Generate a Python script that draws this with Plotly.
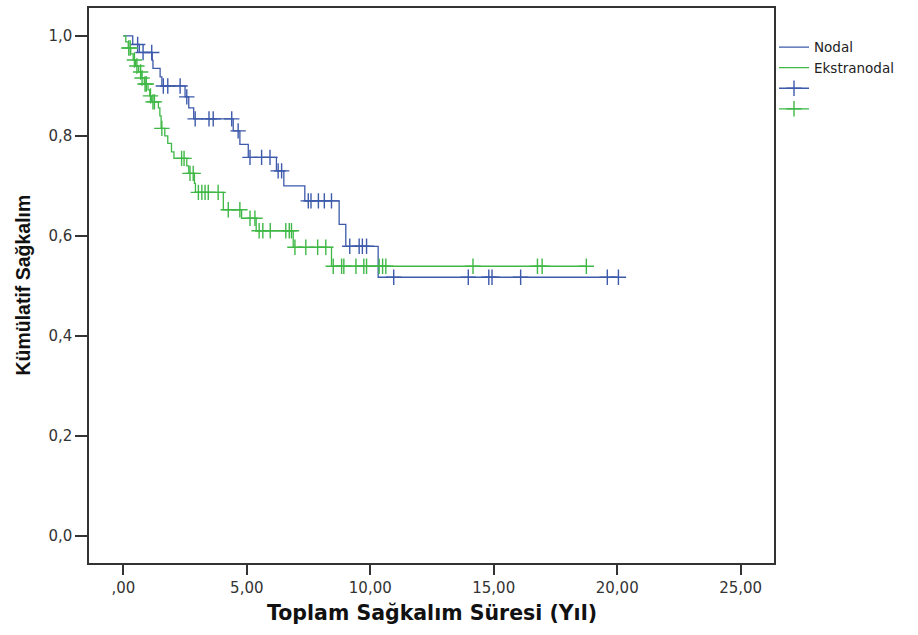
import plotly.graph_objects as go

# Kaplan-Meier estimates by group: event times (years) and the survival after each event
nodal_event_times = [0.38, 0.65, 1.17, 1.20, 1.49, 1.56, 2.50, 2.65, 2.85, 4.45, 4.72,
                     5.06, 6.20, 6.50, 7.35, 8.74, 9.01, 10.32]
nodal_survival = [0.983, 0.967, 0.951, 0.935, 0.918, 0.900, 0.878, 0.856, 0.834, 0.810,
                  0.783, 0.757, 0.730, 0.700, 0.670, 0.623, 0.579, 0.517]
nodal_censored = [0.58, 0.80, 1.15, 1.62, 1.80, 2.30, 2.57, 2.91, 3.47, 3.64, 4.39, 4.65,
                  5.13, 5.60, 5.94, 6.27, 6.41, 7.49, 7.60, 7.90, 8.14, 8.43, 9.17, 9.55,
                  9.68, 9.85, 10.95, 13.97, 14.80, 14.93, 16.09, 19.60, 20.05]
nodal_last_time = 20.05

ekstra_event_times = [0.10, 0.20, 0.30, 0.40, 0.50, 0.62, 0.72, 0.85, 1.00, 1.07, 1.15,
                      1.42, 1.48, 1.53, 1.68, 1.80, 1.95, 2.05, 2.57, 2.65, 2.88, 2.92,
                      4.05, 4.79, 5.38, 6.88, 8.43]
ekstra_survival = [0.988, 0.976, 0.964, 0.952, 0.940, 0.928, 0.916, 0.904, 0.892, 0.880,
                   0.868, 0.856, 0.840, 0.815, 0.800, 0.785, 0.768, 0.755, 0.740, 0.725,
                   0.705, 0.687, 0.652, 0.635, 0.610, 0.577, 0.539]
ekstra_censored = [0.22, 0.28, 0.45, 0.55, 0.70, 0.76, 0.88, 0.93, 1.10, 1.20, 1.26, 1.56,
                   2.36, 2.46, 2.70, 2.83, 3.04, 3.18, 3.31, 3.44, 3.84, 4.25, 4.72, 5.13,
                   5.33, 5.50, 5.65, 5.95, 6.58, 6.72, 6.81, 6.95, 7.39, 7.87, 8.20, 8.50,
                   8.84, 8.93, 9.42, 9.74, 9.85, 10.36, 10.50, 10.63, 14.16, 16.77, 16.96,
                   18.75]
ekstra_last_time = 18.75

group_names = ["Nodal", "Ekstranodal"]
group_colors = ["#3d5aab", "#3fb846"]

x_tick_vals = [0, 5, 10, 15, 20, 25]
x_tick_text = [",00", "5,00", "10,00", "15,00", "20,00", "25,00"]
y_tick_vals = [0.0, 0.2, 0.4, 0.6, 0.8, 1.0]
y_tick_text = ["0,0", "0,2", "0,4", "0,6", "0,8", "1,0"]

x_title = "Toplam Sağkalım Süresi (Yıl)"
y_title = "Kümülatif Sağkalım"


def step_curve(times, surv, last):
    xs = [0.0] + list(times) + [last]
    ys = [1.0] + list(surv) + [surv[-1]]
    return xs, ys


def survival_at(t, times, surv):
    s = 1.0
    for ti, si in zip(times, surv):
        if ti <= t:
            s = si
    return s


def censor_points(censored, times, surv):
    xs, ys = [], []
    for c in censored:
        xs += [c, None]
        ys += [survival_at(c, times, surv), None]
    return xs, ys


groups = [
    (nodal_event_times, nodal_survival, nodal_censored, nodal_last_time),
    (ekstra_event_times, ekstra_survival, ekstra_censored, ekstra_last_time),
]

fig = go.Figure()

for (times, surv, cens, last), name, color in zip(groups, group_names, group_colors):
    xs, ys = step_curve(times, surv, last)
    fig.add_trace(go.Scatter(
        x=xs, y=ys, mode="lines", name=name,
        line=dict(color=color, width=1.3, shape="hv"),
        hoverinfo="skip",
    ))

for (times, surv, cens, last), color in zip(groups, group_colors):
    cx, cy = censor_points(cens, times, surv)
    fig.add_trace(go.Scatter(
        x=cx, y=cy, mode="lines+markers", name="",
        line=dict(color=color, width=1.3),
        marker=dict(symbol="cross-thin", size=11, line=dict(color=color, width=1.4)),
        connectgaps=False, hoverinfo="skip",
    ))

axis_common = dict(
    showline=True, mirror=True, linecolor="#333333", linewidth=1.5,
    ticks="outside", tickcolor="#333333", tickwidth=1.5,
    showgrid=False, zeroline=False,
    tickfont=dict(family="DejaVu Sans, Arial, sans-serif", size=15, color="#333333"),
)

fig.update_xaxes(range=[-1.39, 26.35], tickvals=x_tick_vals, ticktext=x_tick_text,
                 ticklen=10, **axis_common)
fig.update_yaxes(range=[-0.055, 1.056], tickvals=y_tick_vals, ticktext=y_tick_text,
                 ticklen=12, **axis_common)

fig.add_annotation(
    text=x_title, xref="paper", yref="paper", x=0.5, y=-0.0904,
    xanchor="center", yanchor="middle", showarrow=False,
    font=dict(family="DejaVu Sans, Arial, sans-serif", size=20.5, color="#111111", weight="bold"),
)
fig.add_annotation(
    text=y_title, xref="paper", yref="paper", x=-0.0977, y=0.5,
    xanchor="center", yanchor="middle", showarrow=False, textangle=-90,
    font=dict(family="Liberation Sans, Arial, sans-serif",
              size=19.5, color="#111111", weight="bold"),
)

fig.update_layout(
    width=918, height=635,
    margin=dict(l=89, r=143.5, t=6, b=72.3),
    paper_bgcolor="white", plot_bgcolor="white",
    showlegend=True,
    legend=dict(
        x=1.0, y=0.957, xanchor="left", yanchor="top",
        bgcolor="rgba(0,0,0,0)", borderwidth=0, tracegroupgap=0,
        font=dict(family="DejaVu Sans, Arial, sans-serif", size=13.5, color="#222222"),
    ),
)

fig.write_html("out.html")
